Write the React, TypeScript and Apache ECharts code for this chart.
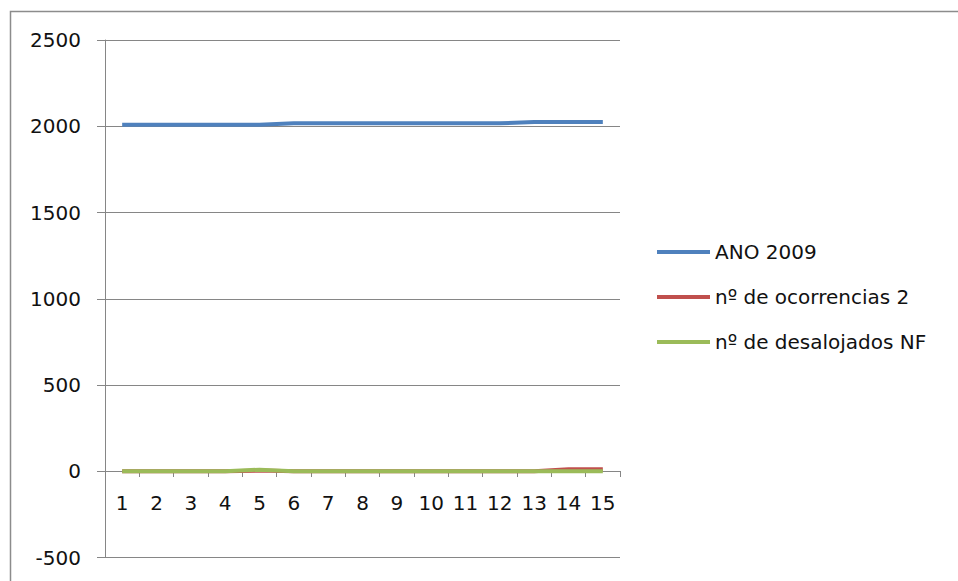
import React, { useEffect, useRef } from "react";
import * as echarts from "echarts";

const categories = ["1", "2", "3", "4", "5", "6", "7", "8", "9", "10", "11", "12", "13", "14", "15"];
const ano2009 = [2009, 2009, 2009, 2009, 2009, 2017, 2017, 2017, 2017, 2017, 2017, 2017, 2025, 2025, 2025];
const ocorrencias = [0, 0, 0, 0, 4, 0, 0, 0, 0, 0, 0, 0, 0, 12, 12];
const desalojados = [0, 0, 0, 0, 9, 0, 0, 0, 0, 0, 0, 0, 0, 0, 0];
const seriesNames = ["ANO 2009", "nº de ocorrencias 2", "nº de desalojados NF"];
const seriesColors = ["#4F81BD", "#C0504D", "#9BBB59"];

const FONT = "DejaVu Sans";

export default function App() {
  const ref = useRef<HTMLDivElement>(null);
  useEffect(() => {
    if (!ref.current) return;
    const chart = echarts.init(ref.current, undefined, { renderer: "svg" });
    const values = [ano2009, ocorrencias, desalojados];
    chart.setOption({
      animation: false,
      backgroundColor: "#ffffff",
      grid: {
        left: 105,
        right: 338,
        top: 40,
        bottom: 23.5,
        containLabel: false,
        outerBoundsMode: "none",
      },
      graphic: [
        {
          type: "rect",
          shape: { x: 10.5, y: 11.5, width: 960, height: 600 },
          style: { fill: "none", stroke: "#8c8c8c", lineWidth: 1.5 },
          silent: true,
        },
      ],
      legend: {
        orient: "vertical",
        left: 652,
        top: 236,
        itemWidth: 53,
        itemHeight: 4,
        itemGap: 23,
        icon: "rect",
        textStyle: { fontFamily: FONT, fontSize: 20, color: "#111111", lineHeight: 22 },
        data: seriesNames,
      },
      xAxis: {
        type: "category",
        data: categories,
        boundaryGap: true,
        offset: -86.5,
        axisLine: { onZero: false, lineStyle: { color: "#868686", width: 1 } },
        axisTick: { show: true, length: 6, lineStyle: { color: "#868686" } },
        axisLabel: { fontFamily: FONT, fontSize: 20, color: "#111111", margin: 22, interval: 0 },
        splitLine: { show: false },
      },
      yAxis: {
        type: "value",
        min: -500,
        max: 2500,
        interval: 500,
        axisLine: { show: true, lineStyle: { color: "#868686", width: 1 } },
        axisTick: { show: true, length: 8, lineStyle: { color: "#868686" } },
        axisLabel: {
          fontFamily: FONT,
          fontSize: 20,
          color: "#111111",
          margin: 24,
          formatter: (v: number) => String(v),
        },
        splitLine: { show: true, lineStyle: { color: "#868686", width: 1 } },
      },
      series: seriesNames.map((name, i) => ({
        name,
        type: "line",
        data: values[i],
        symbol: "none",
        smooth: false,
        color: seriesColors[i],
        lineStyle: { width: 4, color: seriesColors[i] },
        itemStyle: { color: seriesColors[i] },
        z: 2 + i,
      })),
    });
    return () => chart.dispose();
  }, []);
  return (
    <div
      ref={ref}
      style={{ position: "fixed", left: 0, top: 0, width: 958, height: 581 }}
    />
  );
}
